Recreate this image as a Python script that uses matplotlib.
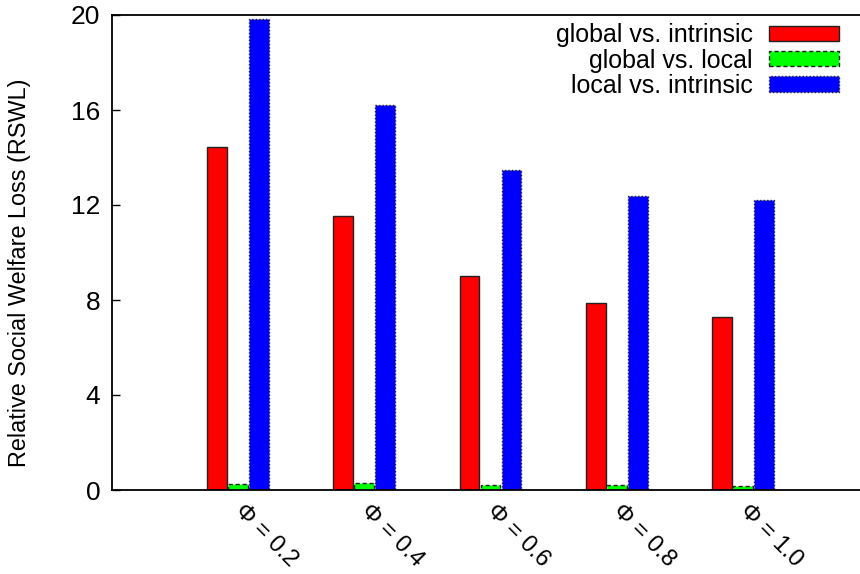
import numpy as np
import matplotlib
matplotlib.use("Agg")
import matplotlib.pyplot as plt

plt.rcParams['font.family'] = ['Liberation Sans', 'DejaVu Sans']

# values
groups = ['Φ = 0.2', 'Φ = 0.4', 'Φ = 0.6', 'Φ = 0.8', 'Φ = 1.0']
global_intrinsic = [14.43, 11.54, 9.02, 7.89, 7.27]
global_local = [0.25, 0.28, 0.20, 0.20, 0.18]
local_intrinsic = [19.83, 16.2, 13.47, 12.38, 12.2]
series_names = ['global vs. intrinsic', 'global vs. local', 'local vs. intrinsic']
y_ticks = [0, 4, 8, 12, 16, 20]

fig = plt.figure(figsize=(8.6, 5.74), dpi=100)
# right edge of the frame is cut off in the original
ax = fig.add_axes([112 / 860, 84 / 574, 757 / 860, 475 / 574])

x = np.arange(len(groups))
step = 1 / 6
w = 0.158
styles = [('#ff0000', '-'), ('#00ff00', (0, (3, 2))), ('#0000ff', (0, (1, 1.5)))]
bars = []
for i, (vals, (col, ls)) in enumerate(zip([global_intrinsic, global_local, local_intrinsic], styles)):
    b = ax.bar(x + (i - 1) * step, vals, width=w, color=col, edgecolor='#222222',
               linewidth=1.0, linestyle=ls, label=series_names[i])
    bars.append(b)

ax.set_xlim(-1, 5)
ax.set_ylim(0, 20)
ax.set_yticks(y_ticks)
ax.tick_params(axis='y', direction='in', length=6, width=1, pad=8.5, labelsize=19)
ax.set_xticks(x)
ax.set_xticklabels(groups, rotation=-45, ha='left', va='center', rotation_mode='anchor', fontsize=17)
ax.tick_params(axis='x', length=0, pad=13)
ax.set_ylabel('Relative Social Welfare Loss (RSWL)', fontsize=16.8)
ax.yaxis.set_label_coords(-0.107, 0.458)

ax.spines['right'].set_visible(False)
for s in ['left', 'top', 'bottom']:
    ax.spines[s].set_linewidth(1.3)

leg = ax.legend(loc='upper right', bbox_to_anchor=(742 / 757, 1.014), frameon=False, fontsize=18,
                markerfirst=False, handlelength=2.8, handleheight=0.55, handletextpad=0.65,
                labelspacing=0.05, borderaxespad=0.2)
for col in leg._legend_handle_box.get_children():
    col.align = 'right'

fig.savefig('out.png', dpi=100)
